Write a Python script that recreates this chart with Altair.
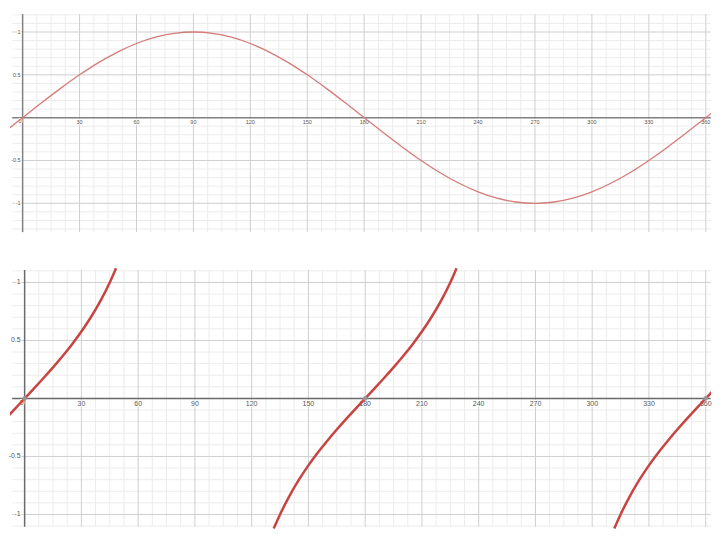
import altair as alt
import pandas as pd

# ---------------- data ----------------
# top panel: sine curve (degrees -> value)
sin_deg = [-10, 0, 10, 20, 30, 40, 50, 60, 70, 80, 90, 100, 110, 120, 130, 140, 150,
           160, 170, 180, 190, 200, 210, 220, 230, 240, 250, 260, 270, 280, 290, 300,
           310, 320, 330, 340, 350, 360, 370]
sin_val = [-0.174, 0.0, 0.174, 0.342, 0.5, 0.643, 0.766, 0.866, 0.94, 0.985, 1.0,
           0.985, 0.94, 0.866, 0.766, 0.643, 0.5, 0.342, 0.174, 0.0, -0.174, -0.342,
           -0.5, -0.643, -0.766, -0.866, -0.94, -0.985, -1.0, -0.985, -0.94, -0.866,
           -0.766, -0.643, -0.5, -0.342, -0.174, 0.0, 0.174]

# bottom panel: tangent curve, three visible branches
tan1_deg = [-10, -5, 0, 5, 10, 15, 20, 25, 30, 35, 40, 45, 48.3]
tan1_val = [-0.176, -0.087, 0.0, 0.087, 0.176, 0.268, 0.364, 0.466, 0.577, 0.7, 0.839, 1.0, 1.123]
tan2_deg = [131.7, 135, 140, 145, 150, 155, 160, 165, 170, 175, 180, 185, 190, 195,
            200, 205, 210, 215, 220, 225, 228.3]
tan2_val = [-1.12, -1.0, -0.839, -0.7, -0.577, -0.466, -0.364, -0.268, -0.176, -0.087,
            0.0, 0.087, 0.176, 0.268, 0.364, 0.466, 0.577, 0.7, 0.839, 1.0, 1.123]
tan3_deg = [311.7, 315, 320, 325, 330, 335, 340, 345, 350, 355, 360, 365, 370]
tan3_val = [-1.12, -1.0, -0.839, -0.7, -0.577, -0.466, -0.364, -0.268, -0.176, -0.087,
            0.0, 0.087, 0.176]

# grid / tick positions
x_major = [0, 30, 60, 90, 120, 150, 180, 210, 240, 270, 300, 330, 360]
x_minor = [7.5, 15, 22.5, 37.5, 45, 52.5, 67.5, 75, 82.5, 97.5, 105, 112.5, 127.5, 135,
           142.5, 157.5, 165, 172.5, 187.5, 195, 202.5, 217.5, 225, 232.5, 247.5, 255,
           262.5, 277.5, 285, 292.5, 307.5, 315, 322.5, 337.5, 345, 352.5]
x_label_pos = [30, 60, 90, 120, 150, 180, 210, 240, 270, 300, 330, 360]
x_label_txt = ["30", "60", "90", "120", "150", "180", "210", "240", "270", "300", "330", "360"]

y_major_top = [-1, -0.5, 0.5, 1]
y_minor_top = [-1.3, -1.2, -1.1, -0.9, -0.8, -0.7, -0.6, -0.4, -0.3, -0.2, -0.1,
               0.1, 0.2, 0.3, 0.4, 0.6, 0.7, 0.8, 0.9, 1.1, 1.2]
y_major_bot = [-1, -0.5, 0.5, 1]
y_minor_bot = [-1.1, -0.9, -0.8, -0.7, -0.6, -0.4, -0.3, -0.2, -0.1,
               0.1, 0.2, 0.3, 0.4, 0.6, 0.7, 0.8, 0.9, 1.1]
y_label_pos = [1, 0.5, -0.5, -1]
y_label_txt = ["1", "0.5", "-0.5", "-1"]

dot_deg = [0, 180, 360]
dot_val = [0, 0, 0]

FONT = "Liberation Sans"


def panel(w, h, xdom, ydom, gx, gy, curve_df, ymaj, ymin, curve_color, curve_w,
          fsize, ydx, axis_color, dots=None):
    xs = alt.Scale(domain=xdom, nice=False, zero=False)
    ys = alt.Scale(domain=ydom, nice=False, zero=False)

    def X(f):
        return alt.X(f, type="quantitative", scale=xs, axis=None)

    def Y(f):
        return alt.Y(f, type="quantitative", scale=ys, axis=None)

    vmin = pd.DataFrame({"x": x_minor, "ya": gy[0], "yb": gy[1]})
    vmaj = pd.DataFrame({"x": x_major[1:], "ya": gy[0], "yb": gy[1]})
    hmin = pd.DataFrame({"y": ymin, "xa": gx[0], "xb": gx[1]})
    hmaj = pd.DataFrame({"y": ymaj, "xa": gx[0], "xb": gx[1]})
    vax = pd.DataFrame({"x": [0], "ya": gy[0], "yb": gy[1]})
    hax = pd.DataFrame({"y": [0], "xa": gx[0], "xb": gx[1]})

    layers = [
        alt.Chart(vmin).mark_rule(color="#ececec", strokeWidth=1).encode(x=X("x"), y=Y("ya"), y2="yb"),
        alt.Chart(hmin).mark_rule(color="#ececec", strokeWidth=1).encode(y=Y("y"), x=X("xa"), x2="xb"),
        alt.Chart(vmaj).mark_rule(color="#cfcfcf", strokeWidth=1).encode(x=X("x"), y=Y("ya"), y2="yb"),
        alt.Chart(hmaj).mark_rule(color="#cfcfcf", strokeWidth=1).encode(y=Y("y"), x=X("xa"), x2="xb"),
        alt.Chart(vax).mark_rule(color=axis_color, strokeWidth=1.5).encode(x=X("x"), y=Y("ya"), y2="yb"),
        alt.Chart(hax).mark_rule(color=axis_color, strokeWidth=1.5).encode(y=Y("y"), x=X("xa"), x2="xb"),
    ]

    xl = pd.DataFrame({"x": x_label_pos, "y": 0, "t": x_label_txt})
    yl = pd.DataFrame({"x": 0, "y": y_label_pos, "t": y_label_txt})
    ol = pd.DataFrame({"x": [0], "y": [0], "t": ["0"]})
    for stroke_layer in (True, False):
        extra = dict(stroke="white", strokeWidth=2) if stroke_layer else {}
        layers += [
            alt.Chart(xl).mark_text(align="center", baseline="top", dy=2, fontSize=fsize,
                                    font=FONT, color="#555555", **extra
                                    ).encode(x=X("x"), y=Y("y"), text="t"),
            alt.Chart(yl).mark_text(align="right", baseline="middle", dx=ydx, fontSize=fsize,
                                    font=FONT, color="#555555", **extra
                                    ).encode(x=X("x"), y=Y("y"), text="t"),
            alt.Chart(ol).mark_text(align="right", baseline="top", dx=-1, dy=1, fontSize=fsize,
                                    font=FONT, color="#555555", **extra
                                    ).encode(x=X("x"), y=Y("y"), text="t"),
        ]

    layers.append(
        alt.Chart(curve_df).mark_line(clip=True, interpolate="monotone", color=curve_color,
                                      strokeWidth=curve_w).encode(
            x=X("x"), y=Y("y"), detail="b:N", order="x:Q")
    )
    if dots is not None:
        layers.append(
            alt.Chart(dots).mark_circle(color="#9a9a9a", opacity=0.9, size=22).encode(x=X("x"), y=Y("y"))
        )
    return alt.layer(*layers).properties(width=w, height=h)


sin_df = pd.DataFrame({"x": sin_deg, "y": sin_val, "b": "s"})
tan_df = pd.concat([
    pd.DataFrame({"x": tan1_deg, "y": tan1_val, "b": "t1"}),
    pd.DataFrame({"x": tan2_deg, "y": tan2_val, "b": "t2"}),
    pd.DataFrame({"x": tan3_deg, "y": tan3_val, "b": "t3"}),
], ignore_index=True)
dots_df = pd.DataFrame({"x": dot_deg, "y": dot_val})

top = panel(704, 242, [-6.66, 362.76], [-1.5465, 1.2674], (-5.5, 362.6), (1.209, -1.337),
            sin_df, y_major_top, y_minor_top, "#d57b78", 1.3, 5.5, -2, "#808080")
bottom = panel(704, 282, [-7.74, 362.8], [-1.1416, 1.279], (-6.6, 362.6), (1.107, -1.105),
               tan_df, y_major_bot, y_minor_bot, "#c74440", 2.5, 7, -4, "#6a6a6a", dots=dots_df)

chart = alt.vconcat(top, bottom, spacing=0).properties(
    padding=0, background="white"
).configure_view(stroke=None)

chart.save("out.html", embed_options={"renderer": "svg", "actions": False})
